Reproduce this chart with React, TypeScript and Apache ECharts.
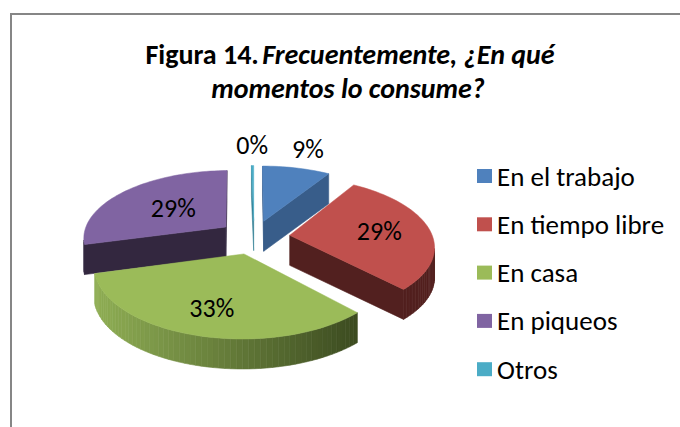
import React, { useEffect, useRef } from 'react';
import * as echarts from 'echarts';

// ---- data ----
const categories = ['En el trabajo', 'En tiempo libre', 'En casa', 'En piqueos', 'Otros'];
const values = [9, 29, 33, 29, 0.3];
const topColors = ['#4F81BD', '#C0504D', '#9BBB59', '#8064A2', '#4BACC6'];
const wallLight = ['#385D8A', '#52201F', '#8FAE54', '#33273F', '#2F7E93'];
const wallDark = ['#385D8A', '#52201F', '#3C4B20', '#33273F', '#2F7E93'];
const titleBold = 'Figura 14.';
const titleItalic1 = 'Frecuentemente, ¿En qué';
const titleItalic2 = 'momentos lo consume?';

// ---- layout / style ----
const FONT = 'Carlito, Calibri, Lato, sans-serif';
const G = { cx: 254, cy: 237, r: 143, sinA: 0.471, cosA: 0.882, dist: 874, explode: 36, depth: 30 };
const LABEL_R = [1.42, 0.64, 0.7, 0.5, 1.45];

const total = values.reduce((a, b) => a + b, 0);
const starts: number[] = [];
{
  let acc = 0;
  for (const v of values) {
    starts.push((acc / total) * Math.PI * 2);
    acc += v;
  }
}

function project(X: number, Z: number): [number, number] {
  const f = G.dist / (G.dist + Z * G.cosA);
  return [G.cx + X * f, G.cy - Z * G.sinA * f];
}

function hexToRgb(h: string) {
  const n = parseInt(h.slice(1), 16);
  return [(n >> 16) & 255, (n >> 8) & 255, n & 255];
}
function mix(a: string, b: string, t: number) {
  const A = hexToRgb(a), B = hexToRgb(b);
  const c = A.map((v, k) => Math.round(v + (B[k] - v) * t));
  return `rgb(${c[0]},${c[1]},${c[2]})`;
}

function sliceGraphic(i: number, value: number) {
  const start = starts[i];
  const end = start + (value / total) * Math.PI * 2;
  const mid = (start + end) / 2;
  const ex = G.explode * Math.sin(mid);
  const ez = G.explode * Math.cos(mid);
  const apex = project(ex, ez);
  const n = Math.max(2, Math.ceil((end - start) / (Math.PI / 90)));
  const rim: [number, number][] = [];
  for (let k = 0; k <= n; k++) {
    const a = start + ((end - start) * k) / n;
    rim.push(project(ex + G.r * Math.sin(a), ez + G.r * Math.cos(a)));
  }
  const poly = [apex, ...rim];
  const xs = rim.map((p) => p[0]);
  const minX = Math.min(...xs, apex[0]);
  const maxX = Math.max(...xs, apex[0]);
  const children: any[] = [];
  const len = poly.length;
  for (let j = 0; j < len; j++) {
    const p = poly[j];
    const q = poly[(j + 1) % len];
    if (q[0] - p[0] < -0.05) {
      const isCut = j === 0 || j === len - 1;
      let col: string;
      if (isCut) col = wallLight[i];
      else {
        const t = ((p[0] + q[0]) / 2 - minX) / Math.max(1, maxX - minX);
        col = mix(wallLight[i], wallDark[i], t);
      }
      children.push({
        type: 'polygon',
        shape: { points: [p, q, [q[0], q[1] + G.depth], [p[0], p[1] + G.depth]] },
        style: { fill: col, stroke: col, lineWidth: 0.6 },
      });
    }
  }
  children.push({
    type: 'polygon',
    shape: { points: poly },
    style: { fill: topColors[i], stroke: topColors[i], lineWidth: 0.5 },
  });
  const lr = LABEL_R[i] * G.r;
  const lp = project(ex + lr * Math.sin(mid), ez + lr * Math.cos(mid));
  children.push({
    type: 'text',
    x: lp[0],
    y: lp[1],
    style: {
      text: `${Math.round((value / total) * 100)}%`,
      fill: '#000',
      fontSize: 26,
      fontFamily: FONT,
      align: 'center',
      verticalAlign: 'middle',
    },
  });
  return { type: 'group', children };
}

function buildOption(): any {
  const depthOrder = values
    .map((v, i) => {
      const mid = starts[i] + ((v / total) * Math.PI * 2) / 2;
      return { i, d: Math.cos(mid) };
    })
    .sort((a, b) => b.d - a.d)
    .map((o) => o.i);
  return {
    animation: false,
    backgroundColor: '#fff',
    graphic: [
      {
        type: 'rect',
        shape: { x: 11, y: 14, width: 1000, height: 1000 },
        style: { fill: 'none', stroke: '#868686', lineWidth: 2 },
        z: 0,
      },
      {
        type: 'text',
        x: 350,
        y: 54,
        style: {
          text: `{a|${titleBold}} {b|${titleItalic1}}`,
          align: 'center',
          verticalAlign: 'middle',
          rich: {
            a: { fontSize: 28, fontWeight: 'bold', fontFamily: FONT, fill: '#000' },
            b: { fontSize: 28, fontWeight: 'bold', fontStyle: 'italic', fontFamily: FONT, fill: '#000' },
          },
        },
      },
      {
        type: 'text',
        x: 348,
        y: 88,
        style: {
          text: `{b|${titleItalic2}}`,
          align: 'center',
          verticalAlign: 'middle',
          rich: {
            b: { fontSize: 28, fontWeight: 'bold', fontStyle: 'italic', fontFamily: FONT, fill: '#000' },
          },
        },
      },
    ],
    legend: {
      orient: 'vertical',
      left: 472,
      top: 155,
      icon: 'rect',
      itemWidth: 15,
      itemHeight: 14,
      itemGap: 16.3,
      data: categories,
      selectedMode: false,
      textStyle: { fontSize: 27, fontFamily: FONT, color: '#000', lineHeight: 32 },
    },
    series: categories.map((name, i) => ({
      type: 'custom',
      name,
      coordinateSystem: 'none',
      silent: true,
      z: 2 + depthOrder.indexOf(i),
      itemStyle: { color: topColors[i] },
      data: [[values[i]]],
      renderItem: (_params: any, api: any) => sliceGraphic(i, api.value(0)),
    })),
  };
}

export default function App() {
  const ref = useRef<HTMLDivElement>(null);
  useEffect(() => {
    const chart = echarts.init(ref.current!, undefined, { renderer: 'svg' });
    chart.setOption(buildOption());
    return () => chart.dispose();
  }, []);
  return (
    <div
      ref={ref}
      style={{ position: 'fixed', left: 0, top: 0, width: 680, height: 427, background: '#fff' }}
    />
  );
}
